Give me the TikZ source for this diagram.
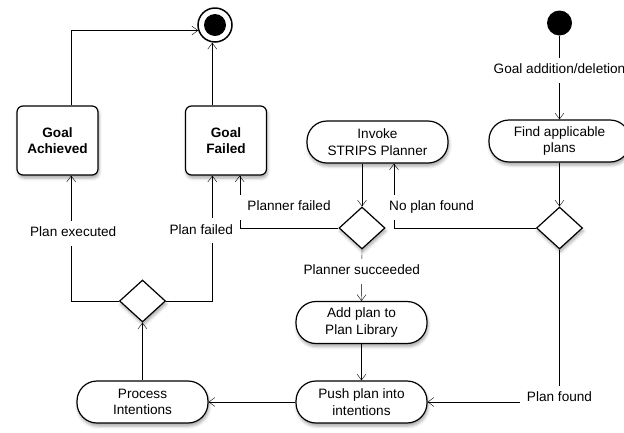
\documentclass[tikz,border=0pt]{standalone}
\usepackage{fontspec}
\setmainfont{Liberation Sans}
\usepackage{tikz}
\usetikzlibrary{arrows.meta,shapes.geometric,shadows.blur,calc,positioning}
\tikzset{
    -{Straight Barb[length=6pt,width=9pt]},line width=1pt,
    goal/.style ={rectangle, draw, fill=white, rounded corners=6pt, minimum width=81pt, minimum height=69pt, align=center,
        line width=1.2pt, font=\fontsize{13.6}{16}\selectfont\bfseries, blur shadow={shadow xshift=1pt, shadow yshift=-3pt, shadow blur radius=3pt, shadow opacity=35}},
    act/.style ={rectangle, draw, fill=white, rounded corners=20pt, minimum width=131pt, minimum height=42pt, align=center,
        line width=1.2pt, blur shadow={shadow xshift=1pt, shadow yshift=-3pt, shadow blur radius=3pt, shadow opacity=35}},
    choice/.style = {diamond, draw, fill=white, minimum width=46pt, minimum height=42pt, inner sep=0pt,
        line width=1.2pt, blur shadow={shadow xshift=1pt, shadow yshift=-3pt, shadow blur radius=3pt, shadow opacity=35}},
    initial/.style = {circle, fill=black, minimum size=25pt, inner sep=0pt},
    final/.style = {circle, draw, fill=white, line width=1.5pt, minimum size=34pt, inner sep=0pt,
        path picture={\fill[black] (path picture bounding box.center) circle (11pt);}},
    lbl/.style = {fill=white, inner xsep=7pt, inner ysep=6pt, text height=10pt, text depth=3pt},
}

\begin{document}
\begin{tikzpicture}[x=1pt,y=-1pt,font=\fontsize{13.6}{16.5}\selectfont]
\useasboundingbox (0,0) rectangle (624,432);

    % start and end
    \node (final) at (215,25) [final] {};
    \node (init) at (559.5,23) [initial] {};

    % goal states
    \node (ga) at (57.5,140.5) [goal] {Goal\\Achieved};
    \node (gf) at (226,140.5) [goal] {Goal\\Failed};

    % activities
    \node (invoke) at (377.5,142) [act, minimum width=141pt] {Invoke\\STRIPS Planner};
    \node (find) at (559.5,141) [act, minimum width=141pt] {Find applicable\\plans};
    \node (add) at (361.5,322.5) [act] {Add plan to\\Plan Library};
    \node (push) at (361.5,402) [act] {Push plan into\\intentions};
    \node (proc) at (142.5,402) [act] {Process\\Intentions};

    % decisions
    \node (dec1) at (362,228) [choice] {};
    \node (dec2) at (559.5,228) [choice] {};
    \node (dec3) at (142.5,301) [choice] {};

    % attachment points
    \coordinate (gaS) at ($(ga.south west)!2/3!(ga.south east)$);
    \coordinate (gaN) at ($(ga.north west)!2/3!(ga.north east)$);
    \coordinate (gfS1) at ($(gf.south west)!1/3!(gf.south east)$);
    \coordinate (gfS2) at ($(gf.south west)!2/3!(gf.south east)$);
    \coordinate (gfN) at ($(gf.north west)!1/3!(gf.north east)$);
    \coordinate (invS) at ($(invoke.south)+(16.5,0)$);

    % transitions
    \draw (dec3.west) -| node[lbl, pos=0.77, xshift=2pt] (lexec) {Plan executed} (gaS);
    \draw (dec3.east) -| node[lbl, pos=0.78, xshift=-11pt] (lplfail) {Plan failed} (gfS1);
    \draw (init) -- node[lbl, pos=0.41] (lgoal) {Goal addition/deletion} (find);
    \draw (find) -- (dec2);
    \draw (dec2.west) -| node[lbl, pos=0.66, anchor=west, xshift=-12pt] (lnoplan) {No plan found} (invS);
    \draw (dec2.south) |- node[lbl, pos=0.5, yshift=4pt] (lfound) {Plan found} (push.east);
    \draw (invoke.south -| dec1.north) -- (dec1.north);
    \draw (dec1.west) -| node[lbl, pos=0.25, yshift=21pt] (lpfail) {Planner failed} (gfS2);
    \draw (dec1.south) -- node[lbl, pos=0.42] (lsucc) {Planner succeeded} (add.north);
    \draw (add) -- (push);
    \draw (push) -- (proc);
    \draw (proc) -- (dec3);
    \draw (gaN) |- (final.198);
    \draw (gfN) -- (gfN |- final.south);

\end{tikzpicture}
\end{document}
